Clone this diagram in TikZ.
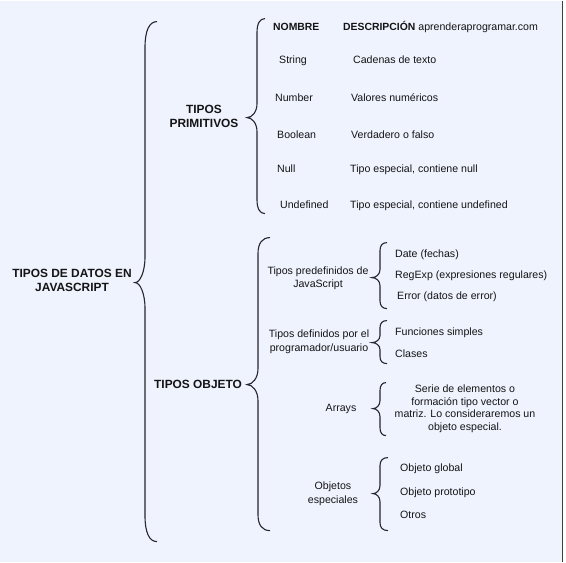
\documentclass[tikz,border=0pt]{standalone}
\usepackage{fontspec}
\setmainfont{Liberation Sans}
\definecolor{pagebg}{RGB}{239,243,253}
\definecolor{ink}{RGB}{20,20,22}
\definecolor{bracecol}{RGB}{38,38,44}

% curly brace opening to the right:
% #1 end x, #2 spine x, #3 point x, #4 top y, #5 point y, #6 bottom y, #7 curl length
\newcommand{\keybrace}[7]{%
  \pgfmathsetmacro\kbA{#2+0.35*(#1-#2)}%
  \pgfmathsetmacro\kbB{#2-0.5*(#2-#3)}%
  \draw[bracestroke] (#1,#4) .. controls (\kbA,#4) and (#2,{#4+0.35*#7}) .. (#2,{#4+#7})
    -- (#2,{#5-#7}) .. controls (#2,{#5-0.4*#7}) and (\kbB,#5) .. (#3,#5)
    .. controls (\kbB,#5) and (#2,{#5+0.4*#7}) .. (#2,{#5+#7})
    -- (#2,{#6-#7}) .. controls (#2,{#6-0.35*#7}) and (\kbA,#6) .. (#1,#6);
}

\begin{document}
\begin{tikzpicture}[x=1pt,y=-1pt,
  bracestroke/.style={draw=bracecol,line width=1.1pt},
  hdr/.style={font=\bfseries\fontsize{11.9}{14.5}\selectfont,align=center,text=ink,inner sep=0pt},
  colhead/.style={font=\bfseries\fontsize{10.4}{12}\selectfont,anchor=west,text=ink,inner sep=0pt,text height=7.4pt,text depth=0pt},
  item/.style={font=\fontsize{10.6}{13}\selectfont,anchor=west,text=ink,inner sep=0pt,text height=6.8pt,text depth=0pt},
  group/.style={font=\fontsize{10.6}{13.5}\selectfont,align=center,text=ink,inner sep=0pt},
  note/.style={font=\fontsize{10.6}{12.6}\selectfont,align=center,text=ink,inner sep=0pt}]

% page
\fill[pagebg] (0,0) rectangle (563,561);
\fill[white] (563,0) rectangle (566,561);
\draw[line width=1.2pt,black!75] (562.5,0) -- (562.5,561);
\useasboundingbox (0,0) rectangle (566,561);

% root and first level
\node[hdr] (root) at (72,280) {TIPOS DE DATOS EN\\JAVASCRIPT};
\node[hdr] (prim) at (204,116) {TIPOS\\PRIMITIVOS};
\node[hdr,anchor=west] (obj) at (154,384) {TIPOS OBJETO};

\keybrace{157}{145}{135}{21}{282}{541}{26}
\keybrace{265}{257}{247}{18}{117}{213}{14}
\keybrace{270}{258}{247}{237}{384}{530}{16}

% primitive types table
\node[colhead] (hName) at (273,26) {NOMBRE};
\node[colhead] (hDesc) at (343,26) {DESCRIPCIÓN\mdseries\fontsize{10.6}{13}\selectfont{} aprenderaprogramar.com};

\node[item] (nString) at (279,59) {String};
\node[item] (dString) at (353,59) {Cadenas de texto};
\node[item] (nNumber) at (275,97) {Number};
\node[item] (dNumber) at (351,97) {Valores numéricos};
\node[item] (nBool) at (277,134) {Boolean};
\node[item] (dBool) at (351,134) {Verdadero o falso};
\node[item] (nNull) at (277,168) {Null};
\node[item] (dNull) at (350,168) {Tipo especial, contiene null};
\node[item] (nUndef) at (280,204) {Undefined};
\node[item] (dUndef) at (350,204) {Tipo especial, contiene undefined};

% object types
\node[group] (predef) at (318,277.5) {Tipos predefinidos de\\JavaScript};
\node[group] (userdef) at (319,341) {Tipos definidos por el\\programador/usuario};
\node[group] (arrays) at (341,408) {Arrays};
\node[group] (special) at (333,493) {Objetos\\especiales};

\keybrace{387}{380}{372}{242}{277}{308}{8}
\keybrace{387}{380}{372}{320}{342}{363}{7}
\keybrace{386}{380}{373}{382}{408}{435}{8}
\keybrace{388}{380}{373}{457}{493}{530}{8}

\node[item] (date) at (395,253) {Date (fechas)};
\node[item] (regexp) at (395,274) {RegExp (expresiones regulares)};
\node[item] (error) at (397,295) {Error (datos de error)};
\node[item] (func) at (395,331) {Funciones simples};
\node[item] (classes) at (395,353) {Clases};
\node[note] (arrdesc) at (465,408) {Serie de elementos o\\formación tipo vector o\\matriz. Lo consideraremos un\\objeto especial.};
\node[item] (global) at (400,467) {Objeto global};
\node[item] (proto) at (400,491) {Objeto prototipo};
\node[item] (others) at (400,514) {Otros};
\end{tikzpicture}
\end{document}
